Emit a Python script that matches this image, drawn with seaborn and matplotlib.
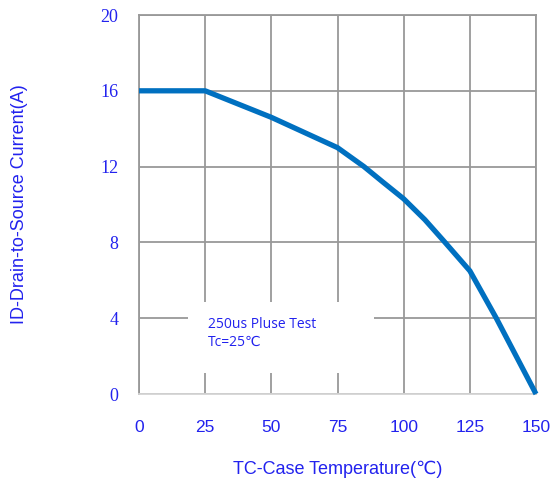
import matplotlib.pyplot as plt
import pandas as pd
import seaborn as sns

# === Data ===
case_temp = [0, 25, 50, 75, 85, 92, 100, 108, 115, 125, 135, 150]
drain_current = [16, 16, 14.6, 13.0, 12.0, 11.2, 10.3, 9.2, 8.1, 6.5, 4.0, 0]
x_ticks = [0, 25, 50, 75, 100, 125, 150]
y_ticks = [0, 4, 8, 12, 16, 20]

# === Style ===
plt.switch_backend("Agg")
sns.set_style("white")
TEXT_BLUE = "#2222EE"
LINE_BLUE = "#0070C0"
GRID_GRAY = "#999999"
SANS = ["Liberation Sans", "DejaVu Sans"]
SERIF = ["Liberation Serif", "DejaVu Serif"]


def main() -> None:
    df = pd.DataFrame({"temp": case_temp, "current": drain_current})

    fig = plt.figure(figsize=(5.51, 4.78), dpi=100)
    ax = fig.add_axes([0.2523, 0.1757, 0.7205, 0.7929])

    sns.lineplot(data=df, x="temp", y="current", color=LINE_BLUE,
                 linewidth=3.8, ax=ax, zorder=3, clip_on=False,
                 solid_joinstyle="round", solid_capstyle="butt")

    ax.set_xlim(0, 150)
    ax.set_ylim(0, 20)
    ax.set_xticks(x_ticks)
    ax.set_yticks(y_ticks)
    ax.grid(True, color=GRID_GRAY, linewidth=1.3)
    ax.set_axisbelow(True)
    ax.tick_params(length=0)
    ax.tick_params(axis="x", pad=19)
    ax.tick_params(axis="y", pad=15)

    for lab in ax.get_xticklabels():
        lab.set_fontfamily(SANS)
        lab.set_fontsize(12.5)
        lab.set_color(TEXT_BLUE)
    for lab in ax.get_yticklabels():
        lab.set_fontfamily(SERIF)
        lab.set_fontsize(13)
        lab.set_color(TEXT_BLUE)

    for side in ["top", "right", "left"]:
        ax.spines[side].set_color(GRID_GRAY)
        ax.spines[side].set_linewidth(1.3)
    ax.spines["bottom"].set_color("#d4d4d4")
    ax.spines["bottom"].set_linewidth(1.3)

    ax.set_xlabel("TC-Case Temperature(\u2103)", fontsize=13, color=TEXT_BLUE,
                  family=SANS, labelpad=18)
    ax.set_ylabel("ID-Drain-to-Source Current(A)", fontsize=13, color=TEXT_BLUE,
                  family=SANS, labelpad=52)

    # white box behind the note, covering the grid
    ax.add_patch(plt.Rectangle((18.5, 1.1), 70.2, 3.75, facecolor="white",
                               edgecolor="none", zorder=2))
    ax.text(26, 4.05, "250us Pluse Test\nTc=25\u2103", fontsize=10,
            color=TEXT_BLUE, family=["Open Sans", "DejaVu Sans"],
            va="top", ha="left", linespacing=1.25, zorder=4)

    fig.savefig("out.png", dpi=100)
    plt.close(fig)


if __name__ == "__main__":
    main()
